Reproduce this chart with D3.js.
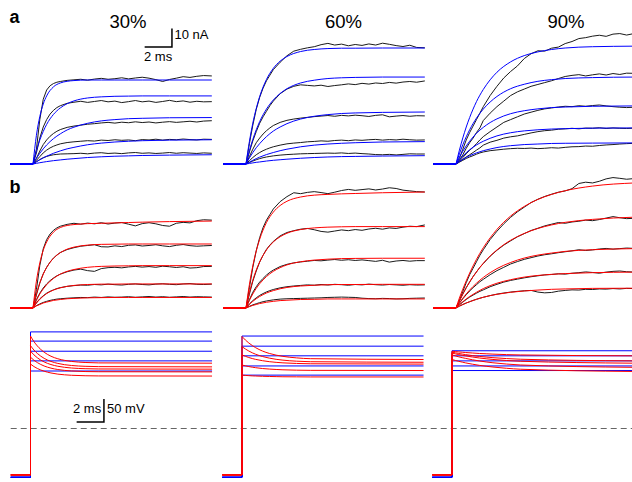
<!DOCTYPE html>
<html>
<head>
<meta charset="utf-8">
<script src="https://cdn.jsdelivr.net/npm/d3@7/dist/d3.min.js"></script>
<style>
  body { margin: 0; background: #fff; }
  svg { display: block; }
</style>
</head>
<body>
<div id="chart-area"></div>
<script>
const columns = ["30%", "60%", "90%"]

// sample times, ms after the step
const tTrace = [0, 0.25, 0.5, 0.75, 1, 1.25, 1.5, 1.75, 2, 2.5, 3, 3.5, 4, 4.5, 5, 5.5, 6, 6.5, 7, 7.5, 8, 8.5, 9, 9.5, 10, 10.5, 11, 11.5, 12, 12.5, 13.1]
const tFit = [0, 0.25, 0.5, 0.75, 1, 1.5, 2, 2.5, 3, 4, 5, 6, 7, 8, 10, 13.1]
const tVolt = [0, 0.25, 0.5, 0.75, 1, 1.5, 2, 2.5, 3, 4, 5, 13.3]

// panel a : recorded currents (nA)
const recA30 = [
  [0, 8, 24, 35, 40, 42.3, 43.5, 44.2, 44.6, 45.2, 45.5, 45.8, 45.3, 45.9, 46.3, 45.8, 46.1, 46.6, 46.0, 46.5, 46.9, 46.4, 45.6, 44.6, 45.7, 46.4, 47.2, 46.8, 47.4, 47.8, 47.6],
  [0, 6, 14, 20, 24, 27, 29, 30.5, 31.5, 32.8, 33.4, 33.9, 33.3, 33.8, 34.3, 33.6, 34.0, 33.2, 33.7, 34.3, 33.6, 34.0, 33.3, 33.8, 34.4, 33.7, 34.1, 33.4, 33.9, 33.6, 33.7],
  [0, 3, 7, 10.5, 13, 15, 16.5, 17.7, 18.6, 19.8, 20.5, 21.0, 21.5, 21.8, 22.2, 22.5, 22.1, 22.6, 22.3, 22.8, 22.4, 22.7, 22.2, 22.6, 22.9, 22.5, 22.8, 23.1, 22.7, 23.2, 23.4],
  [0, 2, 4, 6, 7.5, 8.7, 9.6, 10.3, 10.9, 11.6, 12.0, 12.3, 12.6, 12.4, 12.9, 12.7, 13.1, 12.8, 13.0, 12.6, 13.2, 13.0, 13.4, 12.9, 13.3, 13.1, 13.5, 13.2, 13.0, 13.4, 13.3],
  [0, 1.2, 2.4, 3.4, 4.1, 4.6, 5.0, 5.2, 5.4, 5.5, 5.6, 5.8, 5.5, 5.9, 6.1, 5.7, 5.9, 5.6, 6.0, 6.2, 5.8, 6.0, 5.7, 5.9, 6.2, 5.8, 6.1, 5.9, 5.7, 6.0, 5.8]
]
const recA60 = [
  [0, 11, 21, 29.5, 36, 41, 45, 48, 51, 55, 58.5, 61, 62, 62.8, 63.4, 64.5, 65.2, 64.3, 64.8, 63.9, 64.6, 64.1, 64.9, 64.3, 65.3, 64.7, 64.0, 63.5, 64.2, 63.0, 62.8],
  [0, 6.5, 12.5, 17.5, 22, 25.5, 28.5, 31.5, 34, 38, 40.5, 42, 42.8, 42.5, 42.2, 42.6, 41.9, 42.4, 42.8, 43.3, 42.9, 43.6, 43.2, 43.8, 43.5, 44.1, 43.7, 44.3, 44.6, 44.2, 44.9],
  [0, 4, 8, 11.5, 14, 16.2, 18, 19.5, 20.8, 22.5, 23.6, 24.3, 24.8, 25.2, 25.6, 25.9, 26.2, 25.8, 26.3, 26.0, 26.4, 26.1, 25.7, 26.3, 26.6, 25.5, 25.9, 26.2, 25.8, 26.1, 26.0],
  [0, 1.8, 3.5, 5, 6.2, 7.2, 8, 8.7, 9.3, 10.2, 10.9, 11.3, 11.6, 12.0, 12.2, 12.5, 12.3, 12.7, 12.9, 12.6, 13.0, 12.8, 13.1, 13.3, 12.9, 13.2, 13.0, 13.4, 13.1, 12.9, 13.0],
  [0, 0.8, 1.6, 2.3, 2.9, 3.4, 3.8, 4.1, 4.4, 4.8, 5.1, 5.3, 5.5, 5.6, 5.7, 5.8, 5.9, 5.8, 6.0, 5.7, 5.9, 5.6, 5.4, 5.1, 5.0, 5.2, 4.9, 5.2, 5.5, 5.4, 5.4]
]
const recA90 = [
  [0, 3, 8, 13, 17, 20.5, 24, 27.5, 31, 37, 42, 46.5, 50, 53, 57, 59.6, 61.2, 61.0, 62.6, 63.2, 65.1, 66.2, 67.8, 68.3, 69.1, 69.6, 69.0, 70.2, 70.5, 69.7, 70.6],
  [0, 2, 5, 8.5, 11.5, 14, 17, 19.5, 23.5, 27.5, 31, 34, 37, 39, 40.5, 42, 43, 44, 45, 46.2, 47.3, 47.9, 48.3, 47.6, 48.2, 48.7, 48.1, 48.9, 48.4, 49.1, 49.0],
  [0, 1.5, 3.5, 5.5, 7.5, 9, 11, 13, 14.8, 17.5, 20, 22.5, 24, 25.5, 27, 28, 29, 29.8, 30.3, 30.8, 31.2, 31.0, 31.5, 31.2, 31.6, 31.9, 31.4, 31.0, 30.7, 30.5, 30.7],
  [0, 1.2, 2.5, 3.8, 5, 6.2, 7.5, 8.7, 10.2, 11.8, 12.8, 14, 14.7, 15.2, 16, 16.8, 17.5, 18, 18.3, 18.8, 19, 19.3, 19.0, 19.4, 19.3, 19.6, 19.2, 19.5, 19.3, 19.2, 19.4],
  [0, 1, 2, 3, 3.8, 4.5, 5.3, 6, 6.5, 7.2, 7.6, 8, 8.3, 8.5, 8.4, 8.6, 8.3, 8.5, 8.8, 8.6, 9, 9.3, 9.4, 9.7, 9.6, 10, 10.3, 10.5, 10.8, 11, 11.2]
]

// panel a : fitted currents (nA), blue
const fitA30 = [
  [0, 15.5, 25.7, 32.4, 36.8, 41.7, 43.8, 44.7, 45.1, 45.4, 45.4, 45.4, 45.4, 45.4, 45.4, 45.4],
  [0, 7.2, 13.0, 17.6, 21.4, 26.8, 30.3, 32.6, 34.1, 35.7, 36.3, 36.6, 36.7, 36.8, 36.8, 36.8],
  [0, 3.1, 5.8, 8.2, 10.3, 13.7, 16.3, 18.4, 19.9, 22.0, 23.3, 24.0, 24.5, 24.7, 25.0, 25.1],
  [0, 1.2, 2.3, 3.3, 4.2, 5.8, 7.1, 8.2, 9.0, 10.4, 11.3, 11.9, 12.3, 12.6, 12.9, 13.1],
  [0, 0.35, 0.7, 1.0, 1.3, 1.8, 2.2, 2.6, 2.9, 3.5, 3.9, 4.2, 4.4, 4.6, 4.8, 5.0]
]
const fitA60 = [
  [0, 12.2, 22.1, 30.0, 36.4, 45.7, 51.7, 55.6, 58.1, 60.8, 61.9, 62.4, 62.6, 62.6, 62.7, 62.7],
  [0, 7.2, 13.3, 18.5, 22.9, 29.7, 34.6, 38.1, 40.7, 43.8, 45.3, 46.2, 46.6, 46.8, 47.0, 47.0],
  [0, 3.3, 6.2, 8.8, 11.0, 14.8, 17.8, 20.0, 21.8, 24.3, 25.8, 26.7, 27.3, 27.6, 27.9, 28.1],
  [0, 1.0, 2.0, 2.9, 3.7, 5.1, 6.2, 7.2, 8.0, 9.3, 10.2, 10.8, 11.2, 11.5, 11.9, 12.1],
  [0, 0.3, 0.6, 0.9, 1.1, 1.6, 2.0, 2.3, 2.6, 3.1, 3.5, 3.8, 4.0, 4.1, 4.3, 4.5]
]
const fitA90 = [
  [0, 7.5, 14.1, 20.0, 25.1, 33.7, 40.3, 45.5, 49.6, 55.2, 58.6, 60.6, 61.9, 62.7, 63.4, 63.7],
  [0, 5.5, 10.4, 14.7, 18.5, 24.8, 29.7, 33.5, 36.5, 40.7, 43.1, 44.7, 45.6, 46.2, 46.7, 47.0],
  [0, 3.7, 6.9, 9.8, 12.3, 16.6, 19.8, 22.4, 24.4, 27.2, 28.8, 29.8, 30.5, 30.8, 31.2, 31.4],
  [0, 2.3, 4.3, 6.1, 7.7, 10.3, 12.3, 13.9, 15.2, 16.9, 17.9, 18.5, 18.9, 19.1, 19.4, 19.5],
  [0, 1.3, 2.5, 3.6, 4.5, 6.0, 7.2, 8.1, 8.9, 9.9, 10.5, 10.8, 11.1, 11.2, 11.3, 11.4]
]

// panel b : recorded currents (nA)
const recB30 = [
  [0, 10, 23, 32, 37, 40, 42, 43.3, 44.2, 45.2, 45.8, 45.3, 45.9, 45.5, 46.1, 45.4, 45.9, 46.2, 45.3, 44.4, 45.6, 46.1, 45.5, 44.6, 44.2, 45.8, 46.3, 46.0, 47.2, 47.7, 47.5],
  [0, 7, 13.5, 18.5, 22, 24.8, 27, 28.6, 30, 31.6, 32.6, 33.4, 33.8, 34.2, 33.1, 33.0, 33.6, 33.2, 33.9, 34.1, 33.5, 33.8, 34.2, 33.6, 33.2, 33.9, 34.3, 33.7, 33.4, 33.6, 33.8],
  [0, 4.5, 8, 10.8, 13, 14.8, 16.2, 17.4, 18.3, 19.6, 20.5, 21.0, 20.2, 19.8, 21.3, 21.8, 22.0, 21.7, 22.2, 22.5, 22.1, 22.4, 22.0, 22.6, 22.3, 21.9, 22.3, 21.6, 21.8, 22.4, 22.5],
  [0, 2.8, 5, 6.6, 8, 9, 9.8, 10.5, 11, 11.7, 12.1, 12.4, 12.3, 12.7, 12.5, 12.9, 12.6, 12.4, 12.8, 13.0, 12.7, 12.5, 12.9, 13.1, 12.8, 12.6, 13.0, 13.2, 12.8, 12.7, 12.9],
  [0, 1.3, 2.2, 3, 3.6, 4.1, 4.5, 4.8, 5.0, 5.3, 5.5, 5.7, 5.6, 5.9, 5.7, 6.0, 5.8, 5.9, 6.1, 5.8, 6.0, 6.2, 5.9, 6.1, 5.8, 6.0, 6.2, 5.9, 6.1, 6.0, 5.9]
]
const recB60 = [
  [0, 11, 22, 31, 38, 43.5, 47.5, 50.5, 53.5, 57.5, 60.2, 62.3, 61.8, 62.5, 62.9, 62.4, 61.8, 62.6, 63.5, 64.1, 63.6, 64.0, 64.4, 63.8, 64.3, 65.0, 64.6, 63.7, 63.3, 62.9, 62.7],
  [0, 7.5, 14.5, 20, 24.8, 28.5, 31.7, 34, 36, 39, 40.8, 41.8, 42.6, 43.0, 42.3, 41.4, 41.0, 41.6, 42.2, 41.8, 42.4, 42.0, 42.7, 43.1, 42.6, 43.3, 43.0, 43.7, 44.2, 44.0, 44.9],
  [0, 4.5, 8.5, 11.5, 14, 16, 17.8, 19.3, 20.5, 22.4, 23.6, 24.4, 24.9, 25.3, 25.7, 25.5, 25.9, 26.2, 25.8, 26.1, 25.7, 26.0, 25.6, 25.2, 25.8, 24.8, 25.4, 25.7, 25.3, 25.6, 25.6],
  [0, 2.2, 4, 5.5, 6.8, 7.8, 8.7, 9.4, 10, 10.9, 11.5, 11.9, 12.2, 12.5, 12.3, 12.7, 12.4, 12.8, 12.6, 12.3, 12.7, 12.5, 12.9, 12.6, 12.4, 12.7, 12.5, 12.3, 12.6, 12.4, 12.5],
  [0, 0.9, 1.7, 2.3, 2.9, 3.4, 3.8, 4.1, 4.4, 4.8, 5.0, 5.1, 5.2, 5.3, 5.4, 5.5, 5.7, 5.8, 5.9, 5.8, 5.7, 5.3, 5.1, 5.0, 5.2, 5.1, 4.9, 5.0, 5.2, 5.3, 5.4]
]
const recB90 = [
  [0, 4, 9, 13.7, 18, 21.5, 25, 28.5, 31.5, 37, 41.5, 45.5, 49, 52, 54.5, 57, 58.8, 60.3, 61.5, 62.6, 63.3, 64.5, 67.3, 68, 67.6, 68.5, 69.8, 70.5, 70.1, 69.6, 70.0],
  [0, 3.8, 7.5, 11, 14, 17, 19.5, 22, 24, 28, 31.2, 34, 36.3, 38.5, 40.2, 41.9, 43.1, 44.4, 45.3, 46.2, 45.8, 46.5, 46.9, 47.5, 47.2, 47.8, 48.6, 49.4, 48.8, 48.3, 48.5],
  [0, 2.6, 5, 7.2, 9.2, 11, 12.6, 14.2, 15.5, 18, 20.2, 22, 23.8, 25.1, 26.3, 27.2, 28.1, 28.8, 29.3, 29.9, 30.4, 30.9, 31.5, 31.1, 31.4, 31.9, 32.2, 31.8, 32.1, 32.4, 32.2],
  [0, 1.7, 3.2, 4.6, 5.9, 7, 8, 9, 9.8, 11.5, 12.8, 14, 14.9, 15.6, 16.3, 16.9, 17.4, 17.9, 18.1, 18.5, 18.3, 18.8, 19.1, 19.5, 19.2, 18.8, 19.4, 19.8, 20.0, 19.6, 19.4],
  [0, 1.0, 1.9, 2.7, 3.4, 4.1, 4.7, 5.3, 5.8, 6.7, 7.5, 8.1, 8.6, 9.0, 9.3, 9.5, 8.6, 8.2, 8.4, 9.1, 9.5, 9.8, 9.7, 10.1, 10.0, 10.3, 10.2, 10.5, 10.3, 10.6, 10.5]
]

// panel b : fitted currents (nA), red
const fitB30 = [
  [0, 14.5, 24.4, 31.2, 35.7, 41.0, 43.5, 44.6, 45.1, 45.6, 45.8, 46.0, 46.2, 46.4, 46.7, 47.0],
  [0, 7.6, 13.6, 18.3, 21.9, 26.9, 29.9, 31.8, 32.9, 34.0, 34.4, 34.5, 34.6, 34.6, 34.6, 34.6],
  [0, 4.1, 7.6, 10.3, 12.6, 16.0, 18.3, 19.8, 20.8, 22.0, 22.5, 22.7, 22.8, 22.9, 22.9, 22.9],
  [0, 2.6, 4.7, 6.4, 7.8, 9.7, 10.9, 11.7, 12.2, 12.7, 12.9, 12.9, 13.0, 13.0, 13.0, 13.0],
  [0, 1.1, 1.9, 2.7, 3.2, 4.1, 4.6, 5.0, 5.2, 5.5, 5.6, 5.7, 5.7, 5.7, 5.7, 5.7]
]
const fitB60 = [
  [0, 12.7, 22.8, 30.8, 37.1, 46.2, 51.8, 55.4, 57.7, 60.0, 61.0, 61.4, 61.7, 61.9, 62.3, 62.7],
  [0, 8.3, 15.0, 20.5, 24.9, 31.4, 35.7, 38.5, 40.4, 42.4, 43.3, 43.7, 43.9, 44.0, 44.0, 44.0],
  [0, 4.1, 7.6, 10.6, 13.1, 17.0, 19.8, 21.8, 23.3, 25.0, 25.9, 26.4, 26.7, 26.8, 26.9, 26.9],
  [0, 2.0, 3.6, 5.0, 6.2, 8.1, 9.4, 10.4, 11.1, 11.9, 12.3, 12.6, 12.7, 12.7, 12.8, 12.8],
  [0, 0.75, 1.4, 1.9, 2.4, 3.1, 3.6, 4.0, 4.2, 4.6, 4.7, 4.9, 4.9, 4.9, 4.9, 4.9]
]
const fitB90 = [
  [0, 5.4, 10.2, 14.7, 18.9, 26.3, 32.6, 37.9, 42.5, 49.7, 54.9, 58.7, 61.4, 63.4, 65.9, 67.6],
  [0, 4.0, 7.7, 11.0, 14.1, 19.5, 24.2, 28.1, 31.4, 36.6, 40.3, 43.0, 44.9, 46.3, 47.9, 49.1],
  [0, 2.8, 5.3, 7.6, 9.7, 13.4, 16.5, 19.1, 21.3, 24.6, 27.0, 28.6, 29.7, 30.6, 31.5, 32.1],
  [0, 1.8, 3.4, 4.9, 6.2, 8.5, 10.5, 12.1, 13.4, 15.3, 16.7, 17.6, 18.2, 18.6, 19.1, 19.4],
  [0, 1.0, 1.9, 2.7, 3.4, 4.7, 5.8, 6.7, 7.4, 8.5, 9.2, 9.7, 10.1, 10.3, 10.6, 10.7]
]

// voltage steps (mV): command (blue) and measured (red)
const holdCmd = -106
const holdVm = -101
const cmd30 = [210, 190, 168, 147, 125]
const cmd60 = [201, 179, 158, 136, 116]
const cmd90 = [169, 158, 147, 136, 126]
const vm30 = [
  [201, 189, 179.5, 171.9, 165.8, 157.1, 151.6, 148.1, 145.8, 143.5, 142.6, 142],
  [180, 170.7, 163.2, 157.3, 152.5, 145.8, 141.5, 138.7, 137.0, 135.2, 134.5, 134],
  [168, 160.1, 153.8, 148.7, 144.7, 139.0, 135.3, 133.0, 131.5, 130.0, 129.4, 129],
  [155, 148.5, 143.3, 139.2, 135.9, 131.2, 128.2, 126.3, 125.1, 123.8, 123.4, 123],
  [140, 134.7, 130.5, 127.2, 124.5, 120.7, 118.2, 116.7, 115.7, 114.7, 114.3, 114]
]
const vm60 = [
  [200, 192.3, 185.9, 180.4, 175.7, 168.4, 163.2, 159.5, 156.8, 153.5, 151.8, 150],
  [178, 172.8, 168.4, 164.6, 161.4, 156.5, 153.0, 150.4, 148.6, 146.3, 145.2, 144],
  [160, 156.9, 154.3, 152.1, 150.3, 147.4, 145.3, 143.8, 142.7, 141.4, 140.7, 140],
  [138, 136.2, 134.6, 133.3, 132.2, 130.4, 129.2, 128.3, 127.6, 126.8, 126.4, 126],
  [116, 115.4, 114.9, 114.4, 114.1, 113.5, 113.1, 112.8, 112.5, 112.3, 112.1, 112]
]
const vm90 = [
  [168, 167.2, 166.5, 165.8, 165.2, 164.1, 163.1, 162.4, 161.7, 160.6, 159.9, 158],
  [166, 164.5, 163.1, 161.8, 160.6, 158.5, 156.7, 155.3, 154.0, 152.0, 150.6, 147],
  [164, 162.2, 160.6, 159.1, 157.8, 155.4, 153.3, 151.6, 150.1, 147.8, 146.2, 142],
  [160, 157.8, 155.8, 154.0, 152.4, 149.4, 146.9, 144.7, 142.9, 140.1, 138.1, 133],
  [150, 147.9, 146.0, 144.3, 142.6, 139.8, 137.3, 135.3, 133.6, 130.9, 128.9, 124]
]

// ---- layout
const svgWidth = 632
const svgHeight = 482
const msPx = 13.65          // 2 ms = 27.3 px
const nAPx = 1.85           // 10 nA = 18.5 px
const mVPx = 0.46           // 50 mV = 23 px
const stepI = [33, 246, 456]
const stepV = [30.5, 242, 452]
const titleX = [128, 343.5, 566]
const tPre = -1.68
const tPreV = -1.45
const tEndV = 13.3
const baseA = 164
const baseB = 308
const zeroV = 428.5

const font = "Arial, 'Liberation Sans', sans-serif"
const blue = "#0000ff"
const red = "#ff0000"
const black = "#1a1a1a"
const lw = 1

const svg = d3.select("#chart-area")
  .append("svg")
  .attr("width", svgWidth)
  .attr("height", svgHeight)
  .style("background", "#fff")

const xI = stepI.map(s => d3.scaleLinear().domain([0, 1]).range([s, s + msPx]))
const xV = stepV.map(s => d3.scaleLinear().domain([0, 1]).range([s, s + msPx]))
const yA = d3.scaleLinear().domain([0, 1]).range([baseA, baseA - nAPx])
const yB = d3.scaleLinear().domain([0, 1]).range([baseB, baseB - nAPx])
const yV = d3.scaleLinear().domain([0, 1]).range([zeroV, zeroV - mVPx])

const rows = [
  { y: yA, rec: [recA30, recA60, recA90], fit: [fitA30, fitA60, fitA90], color: blue },
  { y: yB, rec: [recB30, recB60, recB90], fit: [fitB30, fitB60, fitB90], color: red }
]

rows.forEach(row => {
  columns.forEach((c, ci) => {
    const x = xI[ci]
    const lin = d3.line().x(d => x(d[0])).y(d => row.y(d[1]))
    const smooth = d3.line().x(d => x(d[0])).y(d => row.y(d[1])).curve(d3.curveMonotoneX)
    const g = svg.append("g").attr("fill", "none")

    // recorded traces
    row.rec[ci].forEach(tr => {
      const pts = [[tPre, 0]].concat(tTrace.map((t, i) => [t, tr[i]]))
      g.append("path")
        .attr("d", lin(pts))
        .attr("stroke", black)
        .attr("stroke-width", lw)
        .attr("stroke-linejoin", "round")
    })
    // fits
    row.fit[ci].forEach(tr => {
      g.append("path")
        .attr("d", lin([[tPre, 0], [0, 0]]))
        .attr("stroke", row.color)
        .attr("stroke-width", 1.4)
      g.append("path")
        .attr("d", smooth(tFit.map((t, i) => [t, tr[i]])))
        .attr("stroke", row.color)
        .attr("stroke-width", lw)
    })
  })
})

// voltage protocol
const cmds = [cmd30, cmd60, cmd90]
const vms = [vm30, vm60, vm90]

svg.append("line")
  .attr("x1", xV[0](tPreV))
  .attr("x2", svgWidth)
  .attr("y1", yV(0))
  .attr("y2", yV(0))
  .attr("stroke", "#666")
  .attr("stroke-width", 1)
  .attr("stroke-dasharray", "6,4")

columns.forEach((c, ci) => {
  const x = xV[ci]
  const lin = d3.line().x(d => x(d[0])).y(d => yV(d[1]))
  const smooth = d3.line().x(d => x(d[0])).y(d => yV(d[1])).curve(d3.curveMonotoneX)
  const g = svg.append("g").attr("fill", "none")

  cmds[ci].forEach(v => {
    g.append("path")
      .attr("d", lin([[tPreV, holdCmd], [0, holdCmd], [0, v], [tEndV, v]]))
      .attr("stroke", blue)
      .attr("stroke-width", lw)
  })
  vms[ci].forEach(tr => {
    g.append("path")
      .attr("d", lin([[tPreV, holdVm], [0, holdVm], [0, tr[0]]]))
      .attr("stroke", red)
      .attr("stroke-width", lw)
    g.append("path")
      .attr("d", smooth(tVolt.map((t, i) => [t, tr[i]])))
      .attr("stroke", red)
      .attr("stroke-width", lw)
  })
})

// titles and panel letters
svg.append("g")
  .attr("font-family", font)
  .attr("font-size", 18.5)
  .attr("text-anchor", "middle")
  .attr("fill", "#000")
  .selectAll("text")
  .data(columns)
  .join("text")
  .attr("x", (d, i) => titleX[i])
  .attr("y", 28)
  .text(d => d)

svg.append("text").attr("x", 9.5).attr("y", 23.3)
  .attr("font-family", font).attr("font-size", 18).attr("font-weight", "bold")
  .text("a")
svg.append("text").attr("x", 9.5).attr("y", 193.3)
  .attr("font-family", font).attr("font-size", 18).attr("font-weight", "bold")
  .text("b")

// scale bars
function scaleBar(x, y, t0, v0, dt, dv) {
  svg.append("path")
    .attr("d", `M${x(t0 - dt)},${y(v0)}H${x(t0)}V${y(v0 + dv)}`)
    .attr("fill", "none")
    .attr("stroke", "#000")
    .attr("stroke-width", 1.5)
}

scaleBar(xI[0], yA, 10.18, 63.2, 2, 10)
svg.append("text").attr("x", 174.5).attr("y", 38.5)
  .attr("font-family", font).attr("font-size", 13).text("10 nA")
svg.append("text").attr("x", 144).attr("y", 60.5)
  .attr("font-family", font).attr("font-size", 13).text("2 ms")

scaleBar(xV[0], yV, 5.38, 14.1, 2, 50)
svg.append("text").attr("x", 73).attr("y", 413)
  .attr("font-family", font).attr("font-size", 13).text("2 ms")
svg.append("text").attr("x", 107).attr("y", 413)
  .attr("font-family", font).attr("font-size", 13).text("50 mV")
</script>
</body>
</html>
